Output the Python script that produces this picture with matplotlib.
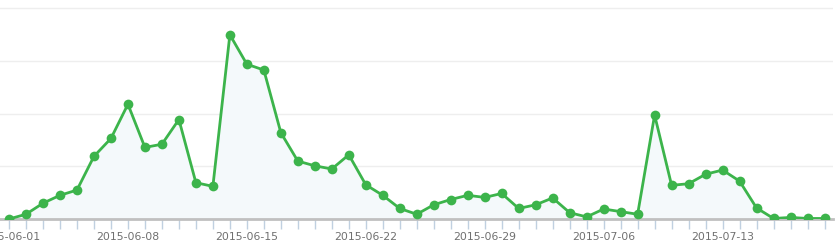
import matplotlib.pyplot as plt
import numpy as np
import pandas as pd

# daily values (gridlines at 10, 20, 30, 40)
start_date = '2015-06-01'
values = [0.0, 0.9, 3.0, 4.5, 5.5, 11.9, 15.3, 21.8, 13.6, 14.2,
          18.9, 6.9, 6.2, 35.0, 29.4, 28.3, 16.4, 11.0, 10.1, 9.5,
          12.2, 6.5, 4.5, 2.0, 0.9, 2.7, 3.7, 4.5, 4.1, 4.85,
          2.0, 2.7, 4.0, 1.2, 0.4, 1.9, 1.4, 0.9, 19.75, 6.4,
          6.7, 8.5, 9.3, 7.2, 2.1, 0.1, 0.3, 0.1, 0.1]
grid_values = [10, 20, 30, 40]

dates = pd.date_range(start_date, periods=len(values), freq='D')
x = np.arange(len(values))
labels = [d.strftime('%Y-%m-%d') for d in dates]

green = '#3cb44b'

fig = plt.figure(figsize=(8.38, 2.45), dpi=100)
ax = fig.add_axes([0, 26 / 245, 833 / 838, 1 - 26 / 245])

ax.fill_between(x, values, 0, color='#f4f9fb', zorder=1)
ax.plot(x, values, color=green, linewidth=2, marker='o', markersize=7,
        markeredgewidth=0, zorder=3)

for g in grid_values:
    ax.axhline(g, color='#eeeeee', linewidth=1, zorder=0)

ax.set_xlim(-0.53, 48.5)
ax.set_ylim(0, 41.6)

for side in ['top', 'right', 'left']:
    ax.spines[side].set_visible(False)
ax.spines['bottom'].set_color('#c0c0c0')
ax.spines['bottom'].set_linewidth(2)
ax.spines['bottom'].set_zorder(2)

ax.set_yticks([])
ax.set_xticks(x, minor=True)
ax.set_xticks(x[::7])
ax.set_xticklabels(labels[::7])
ax.tick_params(axis='x', which='both', direction='out', length=7,
               color='#c0d0e0', width=1)
ax.tick_params(axis='x', which='major', labelsize=7.8, labelcolor='#707070', pad=2)

fig.savefig('out.png', dpi=100)
